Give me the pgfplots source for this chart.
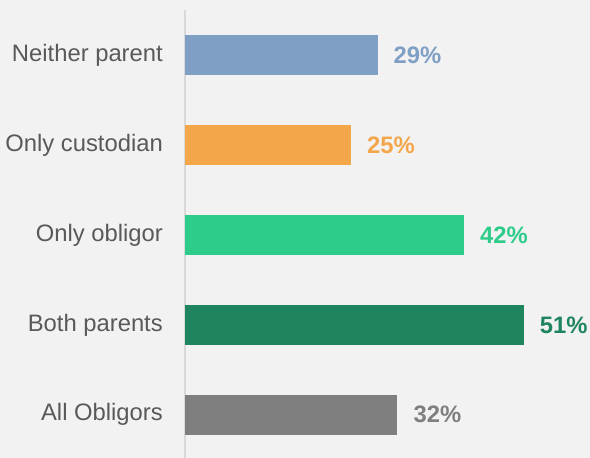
\documentclass[border=0pt]{standalone}
\usepackage{pgfplots}
\pgfplotsset{compat=1.18}
\usepackage{fontspec}
\setmainfont{Liberation Sans}
\definecolor{bg}{HTML}{F2F2F2}
\definecolor{cA}{HTML}{7F9FC5}
\definecolor{cB}{HTML}{F4A74A}
\definecolor{cC}{HTML}{2ECC8A}
\definecolor{cD}{HTML}{1F855E}
\definecolor{cE}{HTML}{7F7F7F}
\definecolor{lab}{HTML}{595959}
\definecolor{axl}{HTML}{D9D9D9}
\begin{document}
\begin{tikzpicture}
\fill[bg] (-185bp,0) rectangle (405bp,458bp);
\begin{axis}[
  at={(0,0)}, anchor=south west,
  scale only axis, width=405bp, height=448bp,
  xbar, bar width=40bp, bar shift=0pt,
  xmin=0, xmax=61, ymin=-0.48, ymax=4.5,
  axis x line=none,
  axis y line*=left,
  y axis line style={draw=axl, line width=1.3bp, -},
  ytick={0,1,2,3,4},
  yticklabels={All Obligors, Both parents, Only obligor, Only custodian, Neither parent},
  major tick length=0pt,
  ytick style={draw=none},
  yticklabel style={font=\fontsize{23.8bp}{28bp}\selectfont, text=lab, inner sep=0pt, anchor=east, xshift=-22bp},
  point meta=x,
  /pgf/number format/assume math mode=true,
  nodes near coords={\pgfmathprintnumber{\pgfplotspointmeta}\%},
  every node near coord/.append style={font=\fontsize{23.8bp}{28bp}\selectfont\bfseries, anchor=west, inner sep=0pt, xshift=16bp},
  clip=false,
]
\addplot[fill=cA, draw=none, every node near coord/.append style={text=cA}] coordinates {(29,4)};
\addplot[fill=cB, draw=none, every node near coord/.append style={text=cB}] coordinates {(25,3)};
\addplot[fill=cC, draw=none, every node near coord/.append style={text=cC}] coordinates {(42,2)};
\addplot[fill=cD, draw=none, every node near coord/.append style={text=cD}] coordinates {(51,1)};
\addplot[fill=cE, draw=none, every node near coord/.append style={text=cE}] coordinates {(32,0)};
\end{axis}
\pgfresetboundingbox
\path (-185bp,0) rectangle (405bp,458bp);
\end{tikzpicture}
\end{document}
